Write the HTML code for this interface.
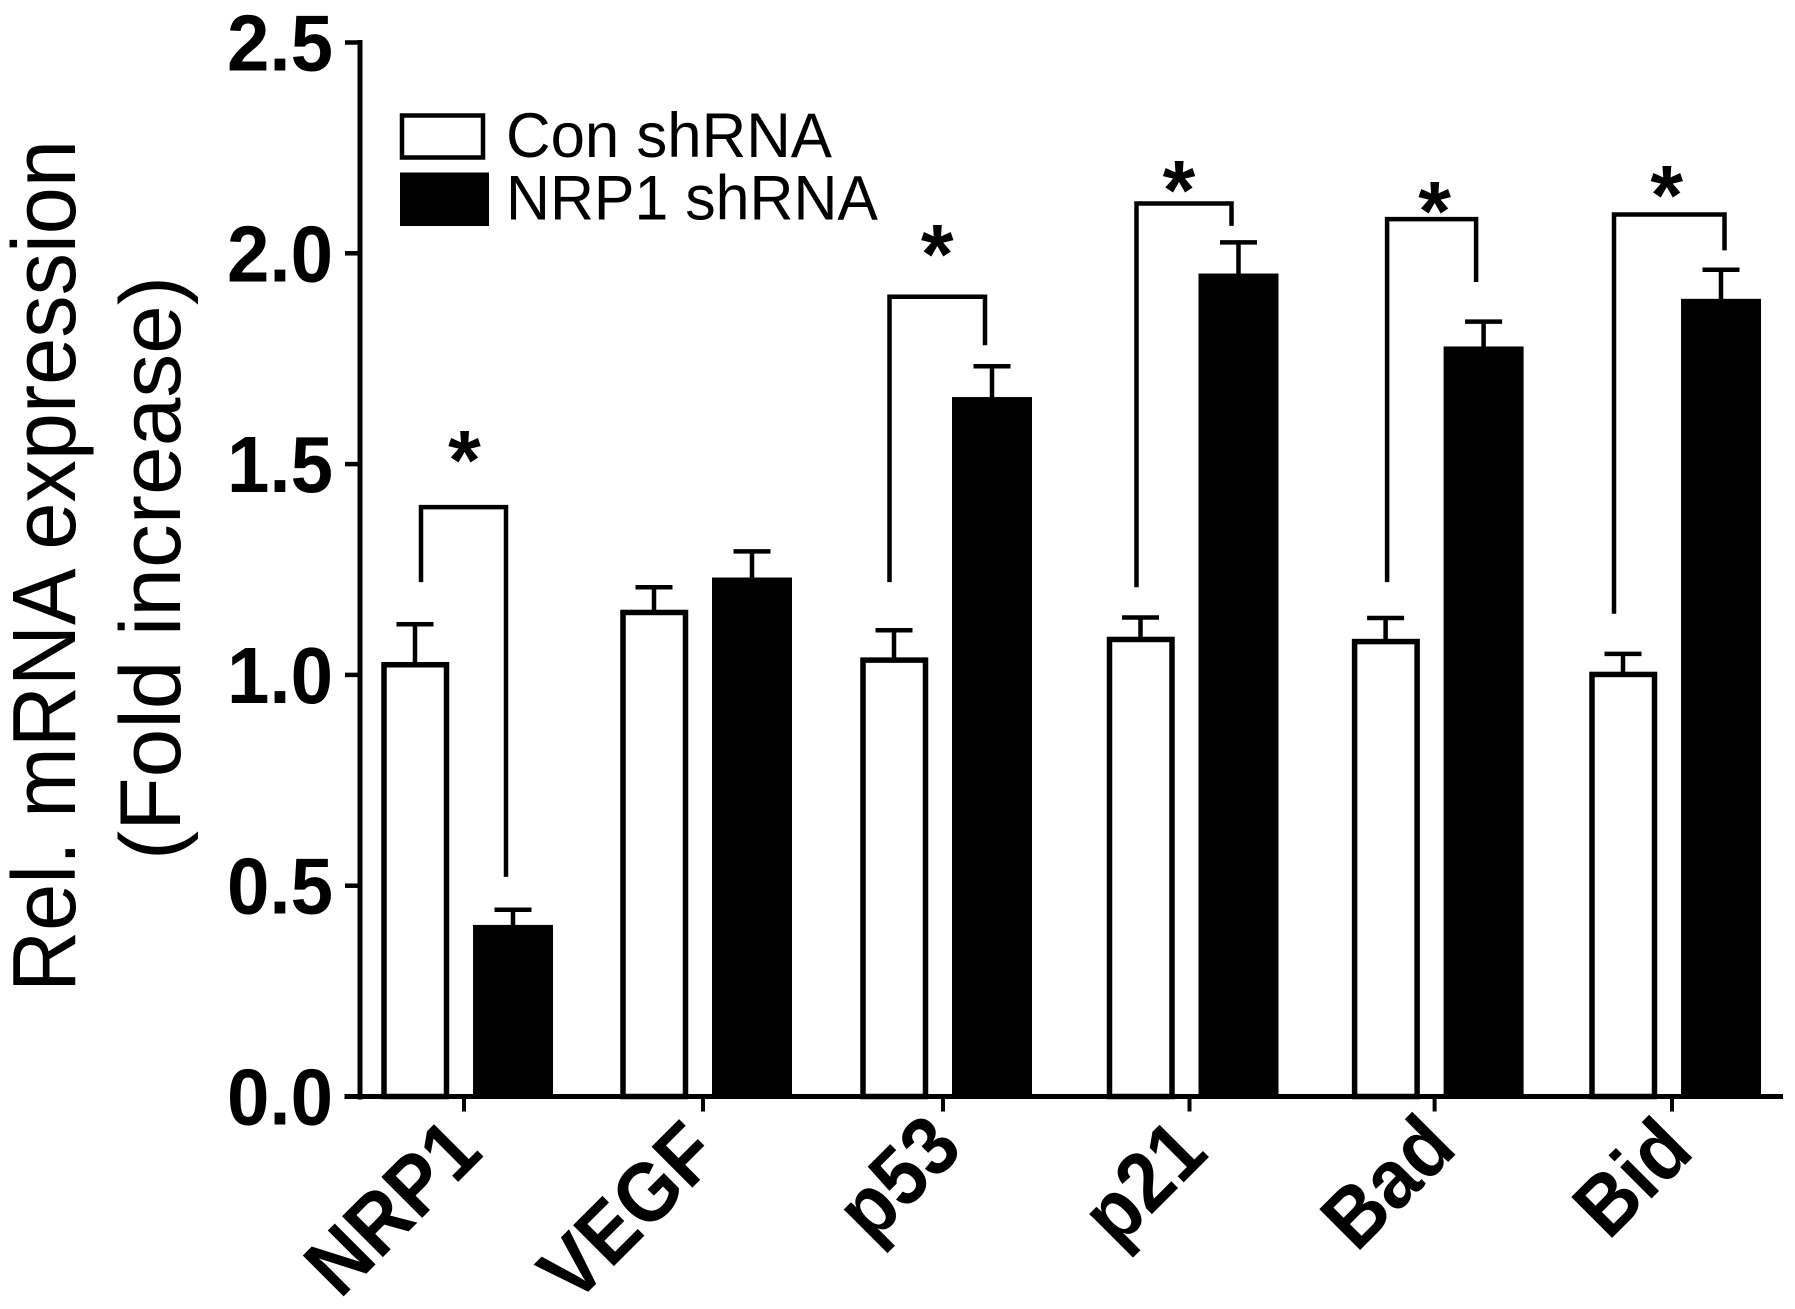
<!DOCTYPE html>
<html lang="en">
<head>
<meta charset="utf-8">
<title>Rel. mRNA expression</title>
<style>
html,body{margin:0;padding:0;background:#fff;}
svg{display:block;font-family:"Liberation Sans",Arial,sans-serif;}
</style>
</head>
<body>
<svg id="chart" xmlns="http://www.w3.org/2000/svg" width="1795" height="1309" viewBox="0 0 1795 1309">
  <rect width="1795" height="1309" fill="#fff"/>
  <text transform="translate(75,992) rotate(-90)" font-size="90" textLength="852" lengthAdjust="spacingAndGlyphs" fill="#000">Rel. mRNA expression</text>
  <text transform="translate(180,860) rotate(-90)" font-size="86" textLength="584" lengthAdjust="spacingAndGlyphs" fill="#000">(Fold increase)</text>
  <g>
    <rect x="402" y="115.5" width="81" height="42" fill="#fff" stroke="#000" stroke-width="4.5"/>
    <text x="506" y="157" font-size="63" textLength="326" lengthAdjust="spacingAndGlyphs" fill="#000">Con shRNA</text>
    <rect x="400" y="172.5" width="89" height="53.5" fill="#000"/>
    <text x="506" y="219.5" font-size="63" textLength="372" lengthAdjust="spacingAndGlyphs" fill="#000">NRP1 shRNA</text>
  </g>
  <g id="marks"></g>
  <g id="axes"></g>
</svg>
<script>
const categories = ['NRP1', 'VEGF', 'p53', 'p21', 'Bad', 'Bid'];
const conValues = [1.03, 1.154, 1.041, 1.09, 1.085, 1.007];
const nrp1Values = [0.407, 1.231, 1.659, 1.952, 1.779, 1.892];
const conErrorTops = [1.12, 1.208, 1.106, 1.136, 1.135, 1.05];
const nrp1ErrorTops = [0.443, 1.293, 1.732, 2.026, 1.838, 1.961];
const yTickValues = [0, 0.5, 1, 1.5, 2, 2.5];
const yTickLabels = ['0.0', '0.5', '1.0', '1.5', '2.0', '2.5'];
const sigCategories = ['NRP1', 'p53', 'p21', 'Bad', 'Bid'];
const sigBracketTops = [1.398, 1.897, 2.118, 2.081, 2.092];
const sigLeftFeet = [1.22, 1.22, 1.208, 1.22, 1.145];
const sigRightFeet = [0.521, 1.782, 2.065, 1.932, 2.007];
const sigStarLevels = [1.541, 2.029, 2.181, 2.131, 2.169];

const SVG_NS = 'http://www.w3.org/2000/svg';
const marks = document.getElementById('marks');
const axes = document.getElementById('axes');

function y(v) {
  return 1096.5 - 421.6 * v;
}
function groupX(i) {
  return [464, 703, 943, 1189.5, 1434.6, 1672][i];
}
function conX(i) {
  return groupX(i) - 49;
}
function nrp1X(i) {
  return groupX(i) + 49;
}
function make(tag, attrs, parent) {
  const node = document.createElementNS(SVG_NS, tag);
  for (const key in attrs) node.setAttribute(key, attrs[key]);
  parent.appendChild(node);
  return node;
}

function drawError(cx, top, base) {
  const stem = make('line', {x1: cx, x2: cx, y1: y(top), y2: y(base) + 2, stroke: '#000', 'stroke-width': 4.5}, marks);
  
  
  const cap = make('line', {x1: cx - 18.5, x2: cx + 18.5, y1: y(top), y2: y(top), stroke: '#000', 'stroke-width': 4.5}, marks);
  
  
}

categories.forEach(function (cat, i) {
  const cx = conX(i);
  const conBar = make('rect', {x: cx - 31, y: y(conValues[i]) + 2.5, width: 62.5, height: y(0) - y(conValues[i]) - 2.5, fill: '#fff', stroke: '#000', 'stroke-width': 5.5}, marks);
  
  
  drawError(cx, conErrorTops[i], conValues[i]);

  const nx = nrp1X(i);
  const nrpBar = make('rect', {x: nx - 40, y: y(nrp1Values[i]), width: 80, height: y(0) - y(nrp1Values[i]), fill: '#000'}, marks);
  
  
  drawError(nx, nrp1ErrorTops[i], nrp1Values[i]);
});

sigCategories.forEach(function (cat, k) {
  const i = categories.indexOf(cat);
  const left = conX(i) + [6, -4.5, -4, 1.5, -9][k];
  const right = nrp1X(i) + [-7, -7, -7, -7.5, 3.5][k];
  const d = 'M' + left + ' ' + y(sigLeftFeet[k]) + 'V' + y(sigBracketTops[k]) + 'H' + right + 'V' + y(sigRightFeet[k]);
  const bracket = make('path', {d: d, fill: 'none', stroke: '#000', 'stroke-width': 4.5}, marks);
  
  
  const star = make('text', {x: (left + right) / 2 + [1, 0, -5, 3, -2.5][k], y: y(sigStarLevels[k]) + 42, 'text-anchor': 'middle', 'font-size': 84, 'font-weight': 'bold', fill: '#000'}, marks);
  star.textContent = '*';
  
  
});

const yAxisLine = make('line', {x1: 360, x2: 360, y1: y(2.5) - 2.5, y2: y(0) + 3, stroke: '#000', 'stroke-width': 5}, axes);


const xAxisLine = make('line', {x1: 344.5, x2: 1783, y1: y(0), y2: y(0), stroke: '#000', 'stroke-width': 5}, axes);



yTickValues.forEach(function (v, i) {
  const tick = make('line', {x1: 345, x2: 360, y1: y(v), y2: y(v), stroke: '#000', 'stroke-width': 4.5}, axes);
  
  
  const label = make('text', {x: 333, y: y(v) + 28, 'text-anchor': 'end', 'font-size': 80, 'font-weight': 'bold', textLength: 106, lengthAdjust: 'spacingAndGlyphs', fill: '#000'}, axes);
  label.textContent = yTickLabels[i];
  
  
});

categories.forEach(function (cat, i) {
  const gx = groupX(i);
  const tick = make('line', {x1: gx, x2: gx, y1: y(0), y2: 1111.5, stroke: '#000', 'stroke-width': 4}, axes);
  
  
  const endX = gx + [21, 19, 22, 21, 24.5, 24][i];
  const endY = [1155, 1158, 1151, 1155.5, 1151, 1154][i];
  const label = make('text', {transform: 'translate(' + endX + ',' + endY + ') rotate(-45) scale(0.915,1)', 'text-anchor': 'end', 'font-size': 84, 'font-weight': 'bold', fill: '#000'}, axes);
  label.textContent = cat;
  
  
});
</script>
</body>
</html>
